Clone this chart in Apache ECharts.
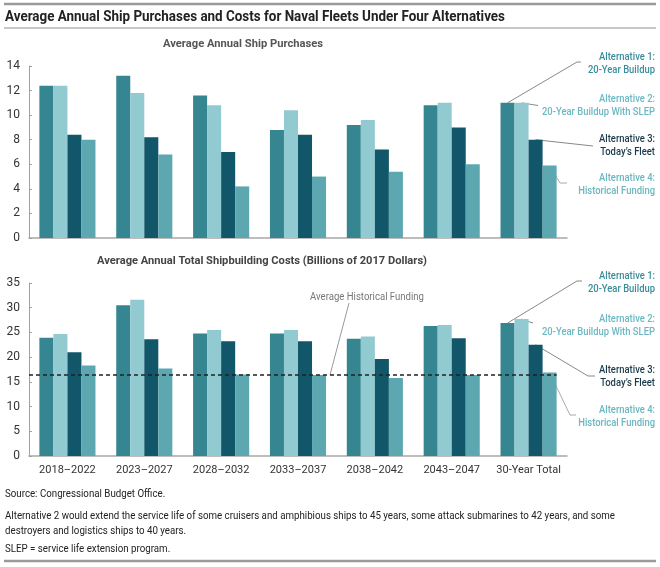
<!DOCTYPE html>
<html><head><meta charset="utf-8">
<script src="https://cdn.jsdelivr.net/npm/echarts@6/dist/echarts.min.js"></script>
<style>html,body{margin:0;padding:0;background:#fff}#c{width:660px;height:567px}</style>
</head><body><div id="c"></div>
<script>
const categories = ['2018\u20132022','2023\u20132027','2028\u20132032','2033\u20132037','2038\u20132042','2043\u20132047','30-Year Total'];
const seriesNames = ['Alternative 1: 20-Year Buildup','Alternative 2: 20-Year Buildup With SLEP','Alternative 3: Today\u2019s Fleet','Alternative 4: Historical Funding'];
const purchasesAlt1 = [12.4, 13.2, 11.6, 8.8, 9.2, 10.8, 11.0];
const purchasesAlt2 = [12.4, 11.8, 10.8, 10.4, 9.6, 11.0, 11.0];
const purchasesAlt3 = [8.4, 8.2, 7.0, 8.4, 7.2, 9.0, 8.0];
const purchasesAlt4 = [8.0, 6.8, 4.2, 5.0, 5.4, 6.0, 5.9];
const costsAlt1 = [23.9, 30.5, 24.8, 24.8, 23.7, 26.3, 26.9];
const costsAlt2 = [24.7, 31.6, 25.5, 25.5, 24.2, 26.5, 27.7];
const costsAlt3 = [21.0, 23.6, 23.2, 23.2, 19.6, 23.8, 22.5];
const costsAlt4 = [18.3, 17.7, 16.5, 16.4, 15.8, 16.4, 16.9];
const historicalFunding = 16.4;
const purchaseAxis = {min: 0, max: 14, interval: 2};
const costAxis = {min: 0, max: 35, interval: 5};

const colors = ['#358690','#92CAD1','#12566A','#5DA8B0'];
const labelColors = ['#3A8D99','#6DB8C2','#1B3A4A','#6AB7BF'];
const F = 'Roboto,"Liberation Sans",sans-serif';
const GAP = 0.27;

const chart = echarts.init(document.getElementById('c'), null, {renderer: 'canvas'});

function xAx(gi, showLabels) {
  return {type: 'category', gridIndex: gi, data: categories,
    axisLine: {show: true, lineStyle: {color: '#a8a8a8', width: 1.5}},
    axisTick: {show: false},
    axisLabel: {show: showLabels, interval: 0, color: '#333', fontFamily: F, fontSize: 11, margin: 9}};
}
function yAx(gi, a) {
  return {type: 'value', gridIndex: gi, min: a.min, max: a.max, interval: a.interval,
    axisLine: {show: true, lineStyle: {color: '#a0a0a0', width: 1}},
    axisTick: {show: true, inside: true, length: 3, lineStyle: {color: '#a0a0a0'}},
    splitLine: {show: false},
    axisLabel: {color: '#333', fontFamily: F, fontSize: 12, margin: 9}};
}
function bars(name, data, i, gi) {
  return {type: 'bar', name: name, xAxisIndex: gi, yAxisIndex: gi, data: data,
    barGap: 0, barCategoryGap: (GAP * 100) + '%', itemStyle: {color: colors[i]}, silent: true, animation: false};
}
const topData = [purchasesAlt1, purchasesAlt2, purchasesAlt3, purchasesAlt4];
const botData = [costsAlt1, costsAlt2, costsAlt3, costsAlt4];
const series = [];
topData.forEach((d, i) => series.push(bars(seriesNames[i], d, i, 0)));
botData.forEach((d, i) => series.push(bars(seriesNames[i], d, i, 1)));

chart.setOption({
  animation: false,
  grid: [
    {left: 29, right: 93, top: 66, height: 172},
    {left: 29, right: 93, top: 283, height: 173}
  ],
  xAxis: [xAx(0, false), xAx(1, true)],
  yAxis: [yAx(0, purchaseAxis), yAx(1, costAxis)],
  series: series
});

function barTop(gi, c, i, v) {
  const p = chart.convertToPixel({gridIndex: gi}, [c, v]);
  const p2 = chart.convertToPixel({gridIndex: gi}, [c > 0 ? c - 1 : c + 1, v]);
  const band = Math.abs(p2[0] - p[0]);
  const bw = band * (1 - GAP) / 4;
  return [p[0] + (i - 1.5) * bw, p[1], bw];
}

// measure text to emulate the condensed face of the original with a horizontal scale
const mctx = document.createElement('canvas').getContext('2d');
function fitScale(str, font, target) {
  mctx.font = font;
  return target / mctx.measureText(str).width;
}

const g = [];
function line(x1, y1, x2, y2, color, w) {
  g.push({type: 'line', shape: {x1, y1, x2, y2}, style: {stroke: color, lineWidth: w || 1}, silent: true});
}
function poly(pts, color) {
  g.push({type: 'polyline', shape: {points: pts}, style: {stroke: color, lineWidth: 1, fill: null}, silent: true});
}
function text(t, x, y, font, sx, opt) {
  g.push({type: 'text', x: x, y: y, scaleX: sx, silent: true, z: 50,
    style: Object.assign({text: t, fill: '#333', font: font, textAlign: 'left', textVerticalAlign: 'middle'}, opt || {})});
}

line(4, 4, 656, 4, '#9a9a9a', 2.5);
line(4, 28, 656, 28, '#b5b5b5', 1.5);
line(4, 561, 656, 561, '#9a9a9a', 2.5);

const titleFont = 'bold 14.5px ' + F;
const titleText = 'Average Annual Ship Purchases and Costs for Naval Fleets Under Four Alternatives';
text(titleText, 5, 17, titleFont, fitScale(titleText, titleFont, 500), {fill: '#222'});

const subFont = 'bold 11.5px ' + F;
const sub1 = 'Average Annual Ship Purchases';
const sub2 = 'Average Annual Total Shipbuilding Costs (Billions of 2017 Dollars)';
text(sub1, 163, 44, subFont, fitScale(sub1, subFont, 160), {fill: '#555'});
text(sub2, 97, 261, subFont, fitScale(sub2, subFont, 330), {fill: '#444'});

const footFont = '10.5px ' + F;
const foot2 = 'Alternative 2 would extend the service life of some cruisers and amphibious ships to 45 years, some attack submarines to 42 years, and some';
const fs = fitScale(foot2, footFont, 610);
text('Source: Congressional Budget Office.', 5, 494, footFont, fs, {fill: '#222'});
text(foot2, 5, 516, footFont, fs, {fill: '#222'});
text('destroyers and logistics ships to 40 years.', 5, 531, footFont, fs, {fill: '#222'});
text('SLEP = service life extension program.', 5, 549, footFont, fs, {fill: '#222'});

const labFont = '500 11.5px ' + F;
const ls = fitScale('20-Year Buildup With SLEP', labFont, 113);
const labelLines = [['Alternative 1:', '20-Year Buildup'], ['Alternative 2:', '20-Year Buildup With SLEP'], ['Alternative 3:', 'Today\u2019s Fleet'], ['Alternative 4:', 'Historical Funding']];
const topLabelY = [57, 99, 139, 178];
const botLabelY = [276, 319, 370, 410];
function labels(ys) {
  labelLines.forEach((l, i) => {
    text(l[0], 655, ys[i], labFont, ls, {fill: labelColors[i], textAlign: 'right'});
    text(l[1], 655, ys[i] + 13, labFont, ls, {fill: labelColors[i], textAlign: 'right'});
  });
}
labels(topLabelY);
labels(botLabelY);

const last = categories.length - 1;
let b;
b = barTop(0, last, 0, purchasesAlt1[last]); poly([[b[0], b[1]], [577, 62], [581, 62]], '#888');
b = barTop(0, last, 1, purchasesAlt2[last]); poly([[b[0], b[1]], [538, 105.5]], '#888');
b = barTop(0, last, 2, purchasesAlt3[last]); poly([[b[0], b[1]], [593, 146]], '#888');
b = barTop(0, last, 3, purchasesAlt4[last]); poly([[b[0], b[1]], [560, 183], [567, 183]], '#aaa');
b = barTop(1, last, 0, costsAlt1[last]); poly([[b[0], b[1]], [577, 281], [582, 281]], '#888');
b = barTop(1, last, 1, costsAlt2[last]); poly([[b[0], b[1]], [533, 323]], '#888');
b = barTop(1, last, 2, costsAlt3[last]); poly([[b[0], b[1]], [588, 376], [595, 376]], '#888');
b = barTop(1, last, 3, costsAlt4[last]); poly([[b[0], b[1]], [570, 415], [576, 415]], '#aaa');

const hy = chart.convertToPixel({gridIndex: 1}, [0, historicalFunding])[1];
const hEnd = barTop(1, last, 3, historicalFunding);
g.push({type: 'line', shape: {x1: 29, y1: hy, x2: hEnd[0] + hEnd[2] / 2, y2: hy}, style: {stroke: '#222', lineWidth: 1.5, lineDash: [4, 3]}, silent: true, z: 100});
const hfFont = '11.5px ' + F;
const hfText = 'Average Historical Funding';
text(hfText, 310, 297, hfFont, fitScale(hfText, hfFont, 114), {fill: '#777'});
poly([[349, 303], [330, hy]], '#999');

chart.setOption({graphic: {elements: g}});
</script>
</body></html>
